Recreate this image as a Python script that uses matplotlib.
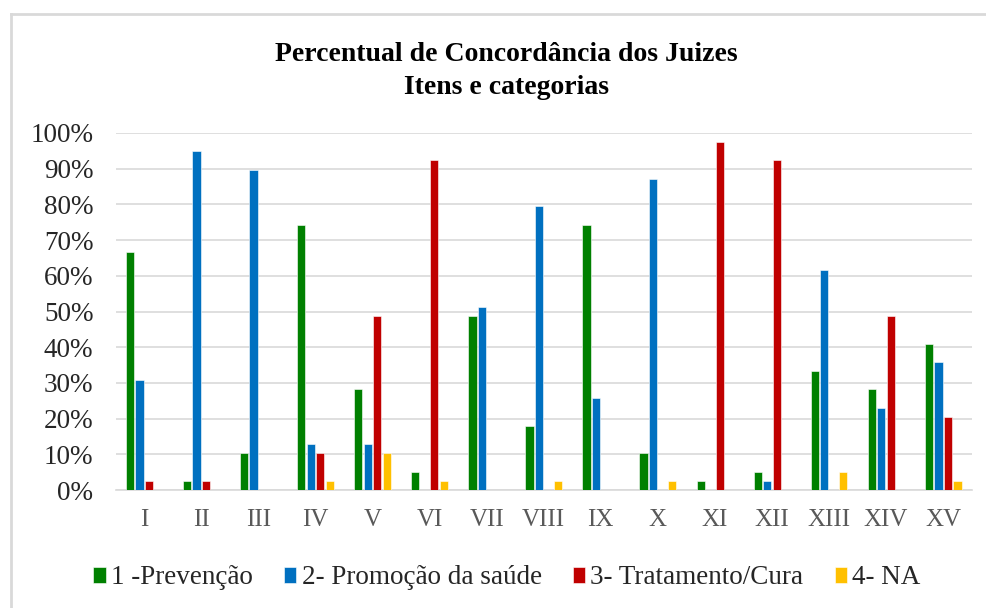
import numpy as np
import matplotlib.pyplot as plt
from matplotlib.lines import Line2D

# Itens avaliados pelos juizes
itens = ["I", "II", "III", "IV", "V", "VI", "VII", "VIII", "IX", "X",
         "XI", "XII", "XIII", "XIV", "XV"]

# percentual de concordancia por categoria (%)
prevencao = [66.67, 2.56, 10.26, 74.36, 28.21, 5.13, 48.72, 17.95, 74.36, 10.26,
             2.56, 5.13, 33.33, 28.21, 41.03]
promocao = [30.77, 94.87, 89.74, 12.82, 12.82, 0, 51.28, 79.49, 25.64, 87.18,
            0, 2.56, 61.54, 23.08, 35.90]
tratamento = [2.56, 2.56, 0, 10.26, 48.72, 92.31, 0, 0, 0, 0,
              97.44, 92.31, 0, 48.72, 20.51]
na = [0, 0, 0, 2.56, 10.26, 2.56, 0, 2.56, 0, 2.56,
      0, 0, 5.13, 0, 2.56]

series = [
    ("1 -Prevenção", prevencao, "#008000"),
    ("2- Promoção da saúde", promocao, "#0070C0"),
    ("3- Tratamento/Cura", tratamento, "#C00000"),
    ("4- NA", na, "#FFC000"),
]

plt.rcParams['font.family'] = ['Liberation Serif', 'DejaVu Serif']

fig = plt.figure(figsize=(9.86, 6.08), dpi=100)
ax = fig.add_axes([115.7 / 986, 118 / 608, 856 / 986, 357 / 608])

x = np.arange(len(itens))
step = 0.1665
for i, (nome, vals, cor) in enumerate(series):
    ax.bar(x + (i - 1.5) * step, vals, width=0.145, color=cor,
           edgecolor="white", linewidth=0.4, label=nome, zorder=3)

ax.set_xlim(-0.5, len(itens) - 0.5)
ax.set_ylim(0, 100)
ax.set_yticks(np.arange(0, 101, 10))
ax.set_yticklabels([f"{v}%" for v in range(0, 101, 10)], fontsize=19.5)
ax.set_xticks(x)
ax.set_xticklabels(itens, fontsize=18)

ax.grid(axis="y", color="#d9d9d9", linewidth=1.2, zorder=0)
for s in ["top", "right", "left"]:
    ax.spines[s].set_visible(False)
ax.spines["bottom"].set_color("#d9d9d9")
ax.spines["bottom"].set_linewidth(1.2)
ax.tick_params(axis="both", length=0)
ax.tick_params(axis="y", pad=16, labelcolor="#262626")
ax.tick_params(axis="x", pad=14, labelcolor="#595959")

fig.text(506 / 986, 1 - 61 / 608, "Percentual de Concordância dos Juizes",
         ha="center", va="baseline", fontsize=20, fontweight="bold")
fig.text(506 / 986, 1 - 94 / 608, "Itens e categorias",
         ha="center", va="baseline", fontsize=20, fontweight="bold")

handles, labels = ax.get_legend_handles_labels()
leg = fig.legend(handles, labels, loc="center",
                 bbox_to_anchor=(507 / 986, 1 - 578 / 608), ncol=4,
                 frameon=False, fontsize=19.5, handlelength=0.45,
                 handleheight=0.5, handletextpad=0.2, columnspacing=1.15)
for t in leg.get_texts():
    t.set_fontfamily("Liberation Serif")
    t.set_color("#262626")

# moldura cinza do grafico (apenas topo e esquerda visiveis)
fig.add_artist(Line2D([11 / 986, 1.0], [1 - 14 / 608, 1 - 14 / 608],
                      transform=fig.transFigure, color="#d9d9d9", linewidth=2))
fig.add_artist(Line2D([11 / 986, 11 / 986], [0, 1 - 14 / 608],
                      transform=fig.transFigure, color="#d9d9d9", linewidth=2))

fig.savefig("out.png", dpi=100)
